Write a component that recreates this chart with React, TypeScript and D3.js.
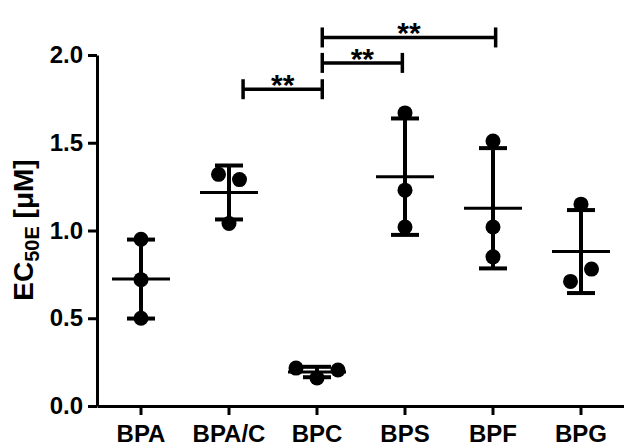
import React, { useEffect, useRef } from "react";
import * as d3 from "d3";

// EC50E values (µM), one array per compound, in plotted order
const categories = ["BPA", "BPA/C", "BPC", "BPS", "BPF", "BPG"];
const bpaValues = [0.95, 0.72, 0.5];
const bpacValues = [1.32, 1.29, 1.04];
const bpcValues = [0.216, 0.16, 0.205];
const bpsValues = [1.67, 1.23, 1.02];
const bpfValues = [1.51, 1.02, 0.85];
const bpgValues = [1.15, 0.71, 0.78];
const yTicks = [0, 0.5, 1.0, 1.5, 2.0];

// significance brackets: start/end in category-index units, level in µM
const bracketFrom = [1.16, 2.06, 2.06];
const bracketTo = [2.06, 2.97, 4.03];
const bracketLevel = [1.805, 1.955, 2.1];
const bracketLabel = ["**", "**", "**"];

const groups = [bpaValues, bpacValues, bpcValues, bpsValues, bpfValues, bpgValues];

function App() {
  const ref = useRef<SVGSVGElement>(null);

  useEffect(() => {
    const svg = d3.select(ref.current);
    svg.selectAll("*").remove();

    const width = 624,
      left = 97,
      bottom = 406,
      top = 55;
    const font = "'Liberation Sans', Arial, sans-serif";

    const x = d3.scaleBand().domain(categories).range([left, width + 1]).padding(0);
    const y = d3.scaleLinear().domain([0, 2]).range([bottom, top]);
    const bw = x.bandwidth();
    const xi = d3
      .scaleLinear()
      .domain([0, categories.length - 1])
      .range([x(categories[0])! + bw / 2, x(categories[categories.length - 1])! + bw / 2]);

    const r = 7.5;
    const spread = 21;

    // y axis
    const gy = svg
      .append("g")
      .attr("transform", "translate(" + left + ",0)")
      .call(
        d3
          .axisLeft(y)
          .tickValues(yTicks)
          .tickFormat(d3.format(".1f"))
          .tickSize(9)
          .tickSizeOuter(0)
          .tickPadding(5)
      );
    gy.select(".domain").attr("stroke-width", 3);
    gy.selectAll(".tick line").attr("stroke-width", 3);
    gy.selectAll(".tick text")
      .attr("font-size", 24)
      .attr("font-weight", "bold")
      .attr("font-family", font)
      .attr("fill", "#000");

    // x axis
    const gx = svg
      .append("g")
      .attr("transform", "translate(0," + bottom + ")")
      .call(d3.axisBottom(x).tickSize(9).tickSizeOuter(0).tickPadding(10));
    gx.select(".domain").attr("stroke-width", 3);
    gx.selectAll(".tick line").attr("stroke-width", 3);
    gx.selectAll(".tick text")
      .attr("font-size", 24)
      .attr("font-weight", "bold")
      .attr("font-family", font)
      .attr("fill", "#000");

    // y label
    const label = svg
      .append("text")
      .attr("transform", "translate(33,230) rotate(-90)")
      .attr("text-anchor", "middle")
      .attr("font-size", 28)
      .attr("font-weight", "bold")
      .attr("font-family", font);
    label.append("tspan").text("EC");
    label.append("tspan").attr("font-size", 20).attr("dy", 6).text("50E");
    label.append("tspan").attr("dy", -6).text(" [\u03bcM]");

    const g = svg.append("g");

    groups.forEach((vals, gi) => {
      const cx = x(categories[gi])! + bw / 2;
      const mean = d3.mean(vals)!;
      const sd = d3.deviation(vals)!;

      // spread overlapping points sideways (in data order)
      const ys = vals.map((v) => y(v));
      const cluster = ys.map((_, i) => i);
      ys.forEach((a, i) =>
        ys.forEach((b, j) => {
          if (j > i && Math.abs(a - b) < 2 * r * 1.05) {
            const c = cluster[j];
            cluster.forEach((k, m) => {
              if (k === c) cluster[m] = cluster[i];
            });
          }
        })
      );
      const offs = vals.map((_, i) => {
        const members = cluster.map((c, m) => (c === cluster[i] ? m : -1)).filter((m) => m >= 0);
        const k = members.indexOf(i);
        return (k - (members.length - 1) / 2) * spread;
      });

      g.selectAll(null)
        .data(vals)
        .enter()
        .append("circle")
        .attr("cx", (d, i) => cx + offs[i])
        .attr("cy", (d) => y(d))
        .attr("r", r)
        .attr("fill", "#000");

      // SD stem
      g.append("line")
        .attr("x1", cx)
        .attr("x2", cx)
        .attr("y1", y(mean - sd))
        .attr("y2", y(mean + sd))
        .attr("stroke", "#000")
        .attr("stroke-width", 4);
      // caps
      [mean - sd, mean + sd].forEach((v) => {
        g.append("line")
          .attr("x1", cx - 14)
          .attr("x2", cx + 14)
          .attr("y1", y(v))
          .attr("y2", y(v))
          .attr("stroke", "#000")
          .attr("stroke-width", 4);
      });
      // mean
      g.append("line")
        .attr("x1", cx - 29)
        .attr("x2", cx + 29)
        .attr("y1", y(mean))
        .attr("y2", y(mean))
        .attr("stroke", "#000")
        .attr("stroke-width", 3);
    });

    // brackets
    const br = svg.append("g");
    bracketLevel.forEach((lv, i) => {
      const x1 = xi(bracketFrom[i]),
        x2 = xi(bracketTo[i]),
        yy = y(lv);
      br.append("line")
        .attr("x1", x1)
        .attr("x2", x2)
        .attr("y1", yy)
        .attr("y2", yy)
        .attr("stroke", "#000")
        .attr("stroke-width", 3.5);
      [x1, x2].forEach((xx) => {
        br.append("line")
          .attr("x1", xx)
          .attr("x2", xx)
          .attr("y1", yy - 10)
          .attr("y2", yy + 10)
          .attr("stroke", "#000")
          .attr("stroke-width", 3.5);
      });
      br.append("text")
        .attr("x", (x1 + x2) / 2)
        .attr("y", yy + 6)
        .attr("text-anchor", "middle")
        .attr("font-size", 30)
        .attr("font-weight", "bold")
        .attr("font-family", font)
        .text(bracketLabel[i]);
    });
  }, []);

  return (
    <svg
      ref={ref}
      width={624}
      height={448}
      style={{ position: "absolute", left: 0, top: 0, background: "#fff" }}
    />
  );
}

export default App;
